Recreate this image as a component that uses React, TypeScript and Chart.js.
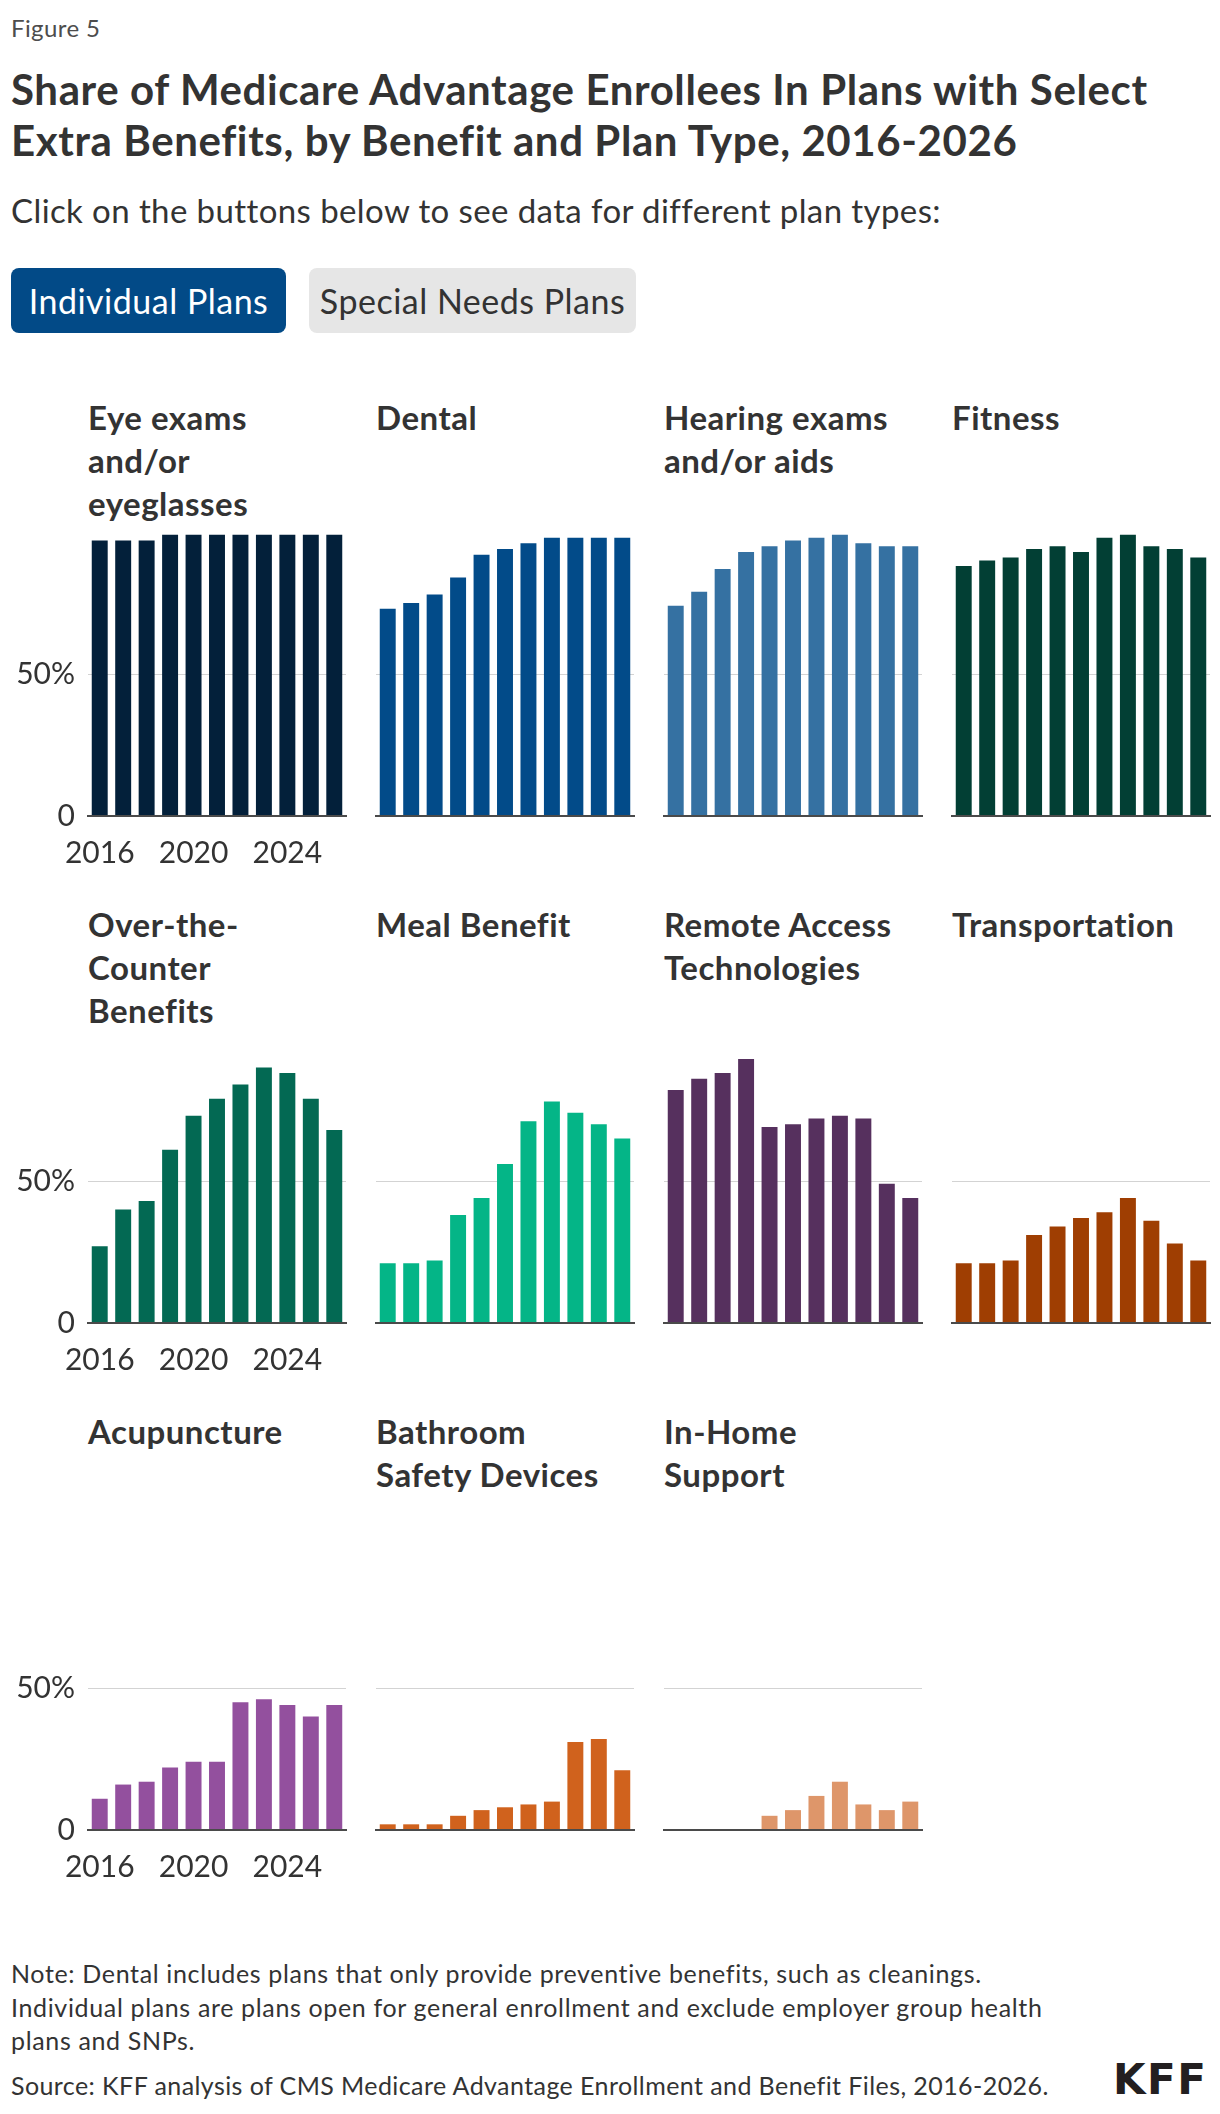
import React, { useEffect, useRef } from "react";
import { Chart, registerables } from "chart.js";

Chart.register(...registerables);

// ---- Data -----------------------------------------------------------------
const years = ["2016", "2017", "2018", "2019", "2020", "2021", "2022", "2023", "2024", "2025", "2026"];
const labeledYears = ["2016", "2020", "2024"];
const yTickValues = [0, 50];

const eyeExams = [97, 97, 97, 99, 99, 99, 99, 99, 99, 99, 99];
const dental = [73, 75, 78, 84, 92, 94, 96, 98, 98, 98, 98];
const hearing = [74, 79, 87, 93, 95, 97, 98, 99, 96, 95, 95];
const fitness = [88, 90, 91, 94, 95, 93, 98, 99, 95, 94, 91];
const overTheCounter = [27, 40, 43, 61, 73, 79, 84, 90, 88, 79, 68];
const mealBenefit = [21, 21, 22, 38, 44, 56, 71, 78, 74, 70, 65];
const remoteAccess = [82, 86, 88, 93, 69, 70, 72, 73, 72, 49, 44];
const transportation = [21, 21, 22, 31, 34, 37, 39, 44, 36, 28, 22];
const acupuncture = [11, 16, 17, 22, 24, 24, 45, 46, 44, 40, 44];
const bathroomSafety = [2, 2, 2, 5, 7, 8, 9, 10, 31, 32, 21];
const inHomeSupport = [null, null, null, null, 5, 7, 12, 17, 9, 7, 10];

const panels = [
  { title: ["Eye exams", "and/or", "eyeglasses"], data: eyeExams, color: "#03203a" },
  { title: ["Dental"], data: dental, color: "#024b89" },
  { title: ["Hearing exams", "and/or aids"], data: hearing, color: "#3571a2" },
  { title: ["Fitness"], data: fitness, color: "#023f34" },
  { title: ["Over-the-", "Counter", "Benefits"], data: overTheCounter, color: "#036953" },
  { title: ["Meal Benefit"], data: mealBenefit, color: "#04b587" },
  { title: ["Remote Access", "Technologies"], data: remoteAccess, color: "#56305e" },
  { title: ["Transportation"], data: transportation, color: "#9f3e02" },
  { title: ["Acupuncture"], data: acupuncture, color: "#93509e" },
  { title: ["Bathroom", "Safety Devices"], data: bathroomSafety, color: "#d0621d" },
  { title: ["In-Home", "Support"], data: inHomeSupport, color: "#de966a" },
];

// ---- Layout ---------------------------------------------------------------
const FONT = "Lato, 'Noto Sans', sans-serif";
const TEXT = "#333333";
const COLS = 4;
const COL_PITCH = 288;
const ROW_PITCH = 507;
const PLOT_LEFT = 88;
const PLOT_W = 258;
const PLOT_TOP = 532;
const PLOT_H = 284;
const PAD_TOP = 6;
const PAD_RIGHT = 4;
const X_AXIS_H = 60;
const Y_AXIS_W = 88;
const TITLE_BASELINE_OFFSET = 386; // first title baseline sits this far above the zero line
const TITLE_SIZE = 33;
const TITLE_LINE = 43;
const TICK_SIZE = 30;

function BarPanel({ index }: { index: number }) {
  const ref = useRef<HTMLCanvasElement | null>(null);
  const panel = panels[index];
  const col = index % COLS;
  const row = Math.floor(index / COLS);
  const first = col === 0;
  const axisW = first ? Y_AXIS_W : 2;
  const plotLeft = PLOT_LEFT + COL_PITCH * col;
  const plotTop = PLOT_TOP + ROW_PITCH * row;
  const width = axisW + PLOT_W + PAD_RIGHT;
  const height = PAD_TOP + PLOT_H + X_AXIS_H;

  useEffect(() => {
    if (!ref.current) return;
    const chart = new Chart(ref.current, {
      type: "bar",
      data: {
        labels: years,
        datasets: [
          {
            data: panel.data as any,
            backgroundColor: panel.color,
            borderWidth: 0,
            barPercentage: 0.68,
            categoryPercentage: 1,
          },
        ],
      },
      options: {
        responsive: false,
        maintainAspectRatio: false,
        animation: false,
        events: [],
        layout: { padding: { top: PAD_TOP, right: PAD_RIGHT, left: 0, bottom: 0 } },
        plugins: {
          legend: { display: false },
          tooltip: { enabled: false },
          title: { display: false },
        },
        scales: {
          x: {
            grid: { display: false, drawTicks: false },
            border: { display: true, color: "#4a4a4a", width: 2, z: 1 } as any,
            ticks: {
              display: first,
              autoSkip: false,
              maxRotation: 0,
              padding: 19,
              color: TEXT,
              font: { family: FONT, size: TICK_SIZE },
              callback: (_v: any, i: number) => (labeledYears.includes(years[i]) ? years[i] : ""),
            },
            afterFit: (s: any) => {
              s.height = X_AXIS_H;
              s.paddingLeft = 0;
              s.paddingRight = 0;
            },
          },
          y: {
            min: 0,
            max: 100,
            afterBuildTicks: (s: any) => {
              s.ticks = yTickValues.map((v) => ({ value: v }));
            },
            grid: {
              drawTicks: false,
              lineWidth: 1,
              color: (ctx: any) => (ctx.tick && ctx.tick.value === 50 ? "#d3d3d3" : "rgba(0,0,0,0)"),
            },
            border: { display: false },
            ticks: {
              display: first,
              padding: 13,
              color: TEXT,
              font: { family: FONT, size: TICK_SIZE },
              callback: (v: any) => (v === 0 ? "0" : `${v}%`),
            },
            afterFit: (s: any) => {
              s.width = axisW;
              s.paddingTop = 0;
              s.paddingBottom = 0;
            },
          },
        },
      },
    });
    return () => chart.destroy();
  }, [index]);

  const titleTop = plotTop + PLOT_H - TITLE_BASELINE_OFFSET - 34;

  return (
    <>
      <div
        style={{
          position: "absolute",
          left: plotLeft,
          top: titleTop,
          fontFamily: FONT,
          fontWeight: 700,
          fontSize: TITLE_SIZE,
          letterSpacing: 0.5,
          lineHeight: `${TITLE_LINE}px`,
          color: TEXT,
          whiteSpace: "nowrap",
        }}
      >
        {panel.title.map((t, i) => (
          <div key={i}>{t}</div>
        ))}
      </div>
      <canvas
        ref={ref}
        width={width}
        height={height}
        style={{
          position: "absolute",
          left: plotLeft - axisW,
          top: plotTop - PAD_TOP,
          width,
          height,
        }}
      />
    </>
  );
}

const noteLines = [
  "Note: Dental includes plans that only provide preventive benefits, such as cleanings.",
  "Individual plans are plans open for general enrollment and exclude employer group health",
  "plans and SNPs.",
];
const sourceLine = "Source: KFF analysis of CMS Medicare Advantage Enrollment and Benefit Files, 2016-2026.";

export default function App() {
  const abs = (left: number, top: number, extra: React.CSSProperties = {}): React.CSSProperties => ({
    position: "absolute",
    left,
    top,
    fontFamily: FONT,
    color: TEXT,
    whiteSpace: "nowrap",
    ...extra,
  });

  return (
    <div style={{ position: "absolute", left: 0, top: 0, width: 1220, height: 2114, background: "#ffffff", overflow: "hidden" }}>
      <div style={abs(11, 14, { fontSize: 24, lineHeight: "28px", letterSpacing: 0.4, color: "#4d4d4d" })}>Figure 5</div>
      <div style={abs(11, 64, { fontSize: 42, lineHeight: "51px", letterSpacing: 0.6, fontWeight: 700 })}>
        <div>Share of Medicare Advantage Enrollees In Plans with Select</div>
        <div>Extra Benefits, by Benefit and Plan Type, 2016-2026</div>
      </div>
      <div style={abs(11, 190, { fontSize: 33, lineHeight: "40px", letterSpacing: 0.4 })}>
        Click on the buttons below to see data for different plan types:
      </div>
      <div
        style={abs(11, 268, {
          width: 275,
          height: 65,
          borderRadius: 8,
          background: "#024a87",
          color: "#ffffff",
          fontSize: 34,
          letterSpacing: 0.5,
          display: "flex",
          alignItems: "center",
          justifyContent: "center",
        })}
      >
        Individual Plans
      </div>
      <div
        style={abs(309, 268, {
          width: 327,
          height: 65,
          borderRadius: 8,
          background: "#e6e6e6",
          fontSize: 34,
          letterSpacing: 0.5,
          display: "flex",
          alignItems: "center",
          justifyContent: "center",
        })}
      >
        Special Needs Plans
      </div>

      {panels.map((_, i) => (
        <BarPanel key={i} index={i} />
      ))}

      <div style={abs(11, 1957, { fontSize: 25, lineHeight: "33.5px", letterSpacing: 0.65 })}>
        {noteLines.map((t, i) => (
          <div key={i}>{t}</div>
        ))}
      </div>
      <div style={abs(11, 2069, { fontSize: 25, lineHeight: "33.5px", letterSpacing: 0.42 })}>{sourceLine}</div>
      <div
        style={abs(1113, 2056, {
          fontFamily: "'DejaVu Sans', sans-serif",
          fontWeight: 700,
          fontSize: 42,
          lineHeight: "48px",
          letterSpacing: 1.5,
          color: "#231f20",
        })}
      >
        KFF
      </div>
    </div>
  );
}
